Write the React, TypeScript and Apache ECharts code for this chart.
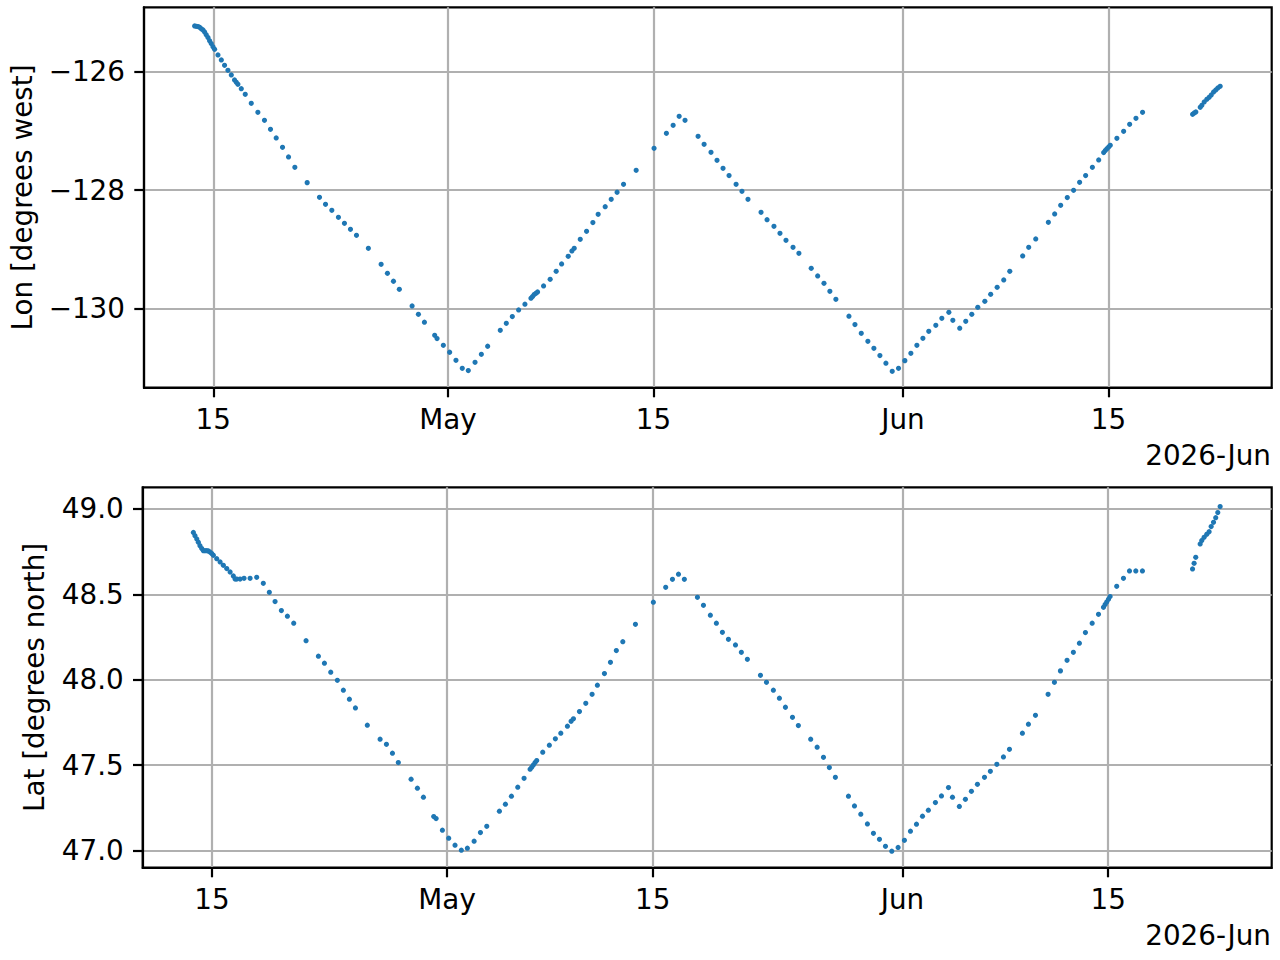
import React, { useEffect, useRef } from 'react';
import * as echarts from 'echarts';

const FONT = 'DejaVu Sans';
const FS = 27.8;

// days since 2026-04-15 00:00
const dayOffsets = [
  -1.27, -1.16, -1.04, -0.93, -0.82, -0.7, -0.59, -0.48, -0.36, -0.25, -0.14, -0.02, 0.09, 0.32, 0.55, 0.77, 1.0, 1.23, 1.45, 1.57, 1.68, 1.91,
  2.18, 2.59, 3.04, 3.49, 3.9, 4.29, 4.72, 5.13, 5.56, 6.4, 7.24, 7.65, 8.08, 8.53, 8.94, 9.35, 9.76, 10.57, 11.44, 11.87, 12.28, 12.68, 13.55, 13.98, 14.39, 15.09, 15.25, 15.68, 16.11, 16.54, 16.97, 17.38, 17.84, 18.27, 18.7, 19.56, 19.97, 20.38, 20.81, 21.24, 21.65, 21.76, 21.87, 21.99, 22.1, 22.51, 22.96, 23.37, 23.74,
  24.19, 24.44, 24.6, 25.01, 25.44, 25.87, 26.23, 26.71, 27.12, 27.52, 27.96, 28.82, 30.04, 30.88, 31.34, 31.75, 32.15, 33.04, 33.45, 33.92, 34.33, 34.74, 35.15, 35.63, 36.03, 36.44, 37.33, 37.74, 38.21, 38.62, 39.03, 39.51, 39.91, 40.75, 41.19, 41.62, 42.02, 42.43, 43.32, 43.73, 44.16, 44.61, 45.02, 45.43, 45.84, 46.27, 46.7, 47.13, 47.54, 47.95, 48.36, 48.76, 49.24, 49.65, 50.13, 50.4, 50.87,
  51.28, 51.69, 52.1, 52.58, 52.98, 53.42, 53.87, 54.28, 55.16, 55.57, 56.05, 56.91, 57.34, 57.75, 58.2, 58.63, 59.04, 59.45, 59.91, 60.34, 60.68, 60.79, 60.9, 61.02, 61.13, 61.58, 62.04, 62.45, 62.88, 63.33,
  66.74, 66.85, 66.96, 67.26, 67.37, 67.53, 67.71, 67.87, 68.01, 68.17, 68.32, 68.46, 68.62,
];

const lonValues = [
  -125.237, -125.243, -125.248, -125.259, -125.282, -125.304, -125.338, -125.383, -125.433, -125.484, -125.534, -125.585, -125.63, -125.725, -125.809, -125.899, -125.983, -126.062, -126.146, -126.185, -126.219, -126.292,
  -126.387, -126.539, -126.69, -126.825, -126.976, -127.122, -127.279, -127.442, -127.616, -127.874, -128.121, -128.238, -128.339, -128.457, -128.558, -128.659, -128.76, -128.979, -129.248, -129.4, -129.534, -129.669, -129.95, -130.09, -130.224, -130.443, -130.499, -130.612, -130.729, -130.864, -130.999, -131.038, -130.898, -130.763, -130.628, -130.359, -130.241, -130.129, -130.017, -129.921, -129.82, -129.792, -129.759, -129.736, -129.714, -129.613, -129.501, -129.366, -129.243,
  -129.114, -129.024, -128.979, -128.828, -128.693, -128.547, -128.407, -128.278, -128.154, -128.036, -127.902, -127.666, -127.296, -127.043, -126.909, -126.757, -126.825, -127.094, -127.229, -127.363, -127.498, -127.633, -127.756, -127.902, -128.02, -128.154, -128.373, -128.497, -128.609, -128.727, -128.844, -128.962, -129.063, -129.316, -129.445, -129.568, -129.703, -129.837, -130.123, -130.264, -130.41, -130.544, -130.662, -130.785, -130.914, -131.049, -130.999, -130.87, -130.746, -130.612, -130.494, -130.376, -130.275, -130.157, -130.056, -130.191, -130.325,
  -130.208, -130.09, -129.972, -129.871, -129.753, -129.635, -129.512, -129.366, -129.108, -128.962, -128.822, -128.541, -128.401, -128.255, -128.126, -128.003, -127.868, -127.756, -127.616, -127.492, -127.369, -127.335, -127.302, -127.274, -127.245, -127.128, -127.01, -126.892, -126.791, -126.69,
  -126.724, -126.701, -126.684, -126.606, -126.572, -126.516, -126.471, -126.438, -126.398, -126.348, -126.314, -126.281, -126.252,
];

const latValues = [
  48.863, 48.844, 48.824, 48.805, 48.785, 48.768, 48.756, 48.756, 48.756, 48.754, 48.748, 48.739, 48.729, 48.709, 48.69, 48.67, 48.651, 48.631, 48.608, 48.59, 48.59, 48.59,
  48.594, 48.594, 48.6, 48.565, 48.512, 48.458, 48.405, 48.372, 48.331, 48.229, 48.138, 48.097, 48.044, 47.997, 47.939, 47.886, 47.835, 47.734, 47.652, 47.622, 47.57, 47.515, 47.418, 47.365, 47.312, 47.199, 47.187, 47.119, 47.072, 47.031, 47.002, 47.014, 47.055, 47.105, 47.142, 47.23, 47.271, 47.318, 47.371, 47.423, 47.476, 47.488, 47.501, 47.515, 47.527, 47.576, 47.617, 47.654, 47.687,
  47.728, 47.757, 47.771, 47.814, 47.862, 47.915, 47.968, 48.036, 48.102, 48.171, 48.223, 48.325, 48.454, 48.541, 48.588, 48.618, 48.588, 48.483, 48.436, 48.378, 48.331, 48.278, 48.237, 48.204, 48.161, 48.12, 48.026, 47.985, 47.939, 47.892, 47.839, 47.78, 47.732, 47.652, 47.605, 47.546, 47.486, 47.429, 47.318, 47.261, 47.213, 47.156, 47.101, 47.066, 47.025, 46.996, 47.018, 47.06, 47.113, 47.154, 47.201, 47.236, 47.281, 47.32, 47.369, 47.312, 47.258,
  47.3, 47.347, 47.388, 47.429, 47.464, 47.505, 47.548, 47.593, 47.687, 47.74, 47.792, 47.915, 47.985, 48.052, 48.114, 48.161, 48.214, 48.276, 48.331, 48.383, 48.424, 48.44, 48.456, 48.471, 48.487, 48.547, 48.594, 48.637, 48.637, 48.637,
  48.649, 48.682, 48.717, 48.795, 48.815, 48.834, 48.852, 48.867, 48.897, 48.922, 48.949, 48.979, 49.014,
];

// x ticks: Apr 15, May 1, May 15, Jun 1, Jun 15 (days since Apr 15)
const xTickDays = [0, 16, 30, 47, 61];
const xTickLabels = ['15', 'May', '15', 'Jun', '15'];
const xRangeDays = [-4.72, 72.13];
const lonTicks = [-130, -128, -126];
const lonRange = [-131.324, -124.923];
const latTicks = [47.0, 47.5, 48.0, 48.5, 49.0];
const latRange = [46.9, 49.127];
const lonName = 'Lon [degrees west]';
const latName = 'Lat [degrees north]';
const offsetLabel = '2026-Jun';

export default function App() {
  const ref = useRef<HTMLDivElement>(null);
  useEffect(() => {
    if (!ref.current) return;
    const chart = echarts.init(ref.current, null, { renderer: 'svg' });
    const lonData = dayOffsets.map((d, i) => [d, lonValues[i]]);
    const latData = dayOffsets.map((d, i) => [d, latValues[i]]);

    const xFormatter = (v: number) => {
      const i = xTickDays.findIndex((t) => Math.abs(t - v) < 0.01);
      return i >= 0 ? xTickLabels[i] : '';
    };
    const labelStyle = { fontSize: FS, fontFamily: FONT, color: '#000' };
    const tickStyle = { lineStyle: { color: '#000', width: 2.2 } };
    const splitStyle = { show: true, lineStyle: { color: '#b0b0b0', width: 2.2 } };

    const makeX = (gi: number) => ({
      type: 'value',
      gridIndex: gi,
      min: xRangeDays[0],
      max: xRangeDays[1],
      axisLine: { show: true, onZero: false, lineStyle: { color: '#000', width: 2.2 } },
      axisTick: { show: true, inside: false, length: 9.7, customValues: xTickDays, ...tickStyle },
      axisLabel: { customValues: xTickDays, formatter: xFormatter, margin: 18, hideOverlap: false, ...labelStyle },
      splitLine: splitStyle,
    });

    const makeY = (gi: number, range: number[], ticks: number[], fmt: (v: number) => string, name: string, gap: number) => ({
      type: 'value',
      gridIndex: gi,
      min: range[0],
      max: range[1],
      name,
      nameLocation: 'middle',
      nameRotate: 90,
      nameGap: gap,
      nameTextStyle: { fontSize: FS, fontFamily: FONT, color: '#000' },
      axisLine: { show: true, onZero: false, lineStyle: { color: '#000', width: 2.2 } },
      axisTick: { show: true, inside: false, length: 9.7, customValues: ticks, ...tickStyle },
      axisLabel: { customValues: ticks, formatter: fmt, margin: 19, hideOverlap: false, ...labelStyle },
      splitLine: splitStyle,
    });

    const series = (gi: number, data: number[][]) => ({
      type: 'scatter',
      xAxisIndex: gi,
      yAxisIndex: gi,
      data,
      symbol: 'circle',
      symbolSize: 5.2,
      itemStyle: { color: '#1f77b4', opacity: 1 },
      silent: true,
    });

    const textStyle = { align: 'right', verticalAlign: 'middle', fontSize: FS, fontFamily: FONT, fill: '#000' };

    chart.setOption({
      animation: false,
      backgroundColor: '#fff',
      grid: [
        { left: 142.7, right: 8.3, top: 7.3, height: 380.3, show: true, borderColor: '#000', borderWidth: 2.2, backgroundColor: 'transparent' },
        { left: 142.7, right: 8.3, top: 487.3, height: 380.3, show: true, borderColor: '#000', borderWidth: 2.2, backgroundColor: 'transparent' },
      ],
      xAxis: [makeX(0), makeX(1)],
      yAxis: [
        makeY(0, lonRange, lonTicks, (v: number) => (v < 0 ? '\u2212' : '') + Math.abs(v).toFixed(0), lonName, 108),
        makeY(1, latRange, latTicks, (v: number) => v.toFixed(1), latName, 94),
      ],
      series: [series(0, lonData), series(1, latData)],
      graphic: [
        { type: 'text', x: 1271, y: 455, style: { text: offsetLabel, ...textStyle } },
        { type: 'text', x: 1271, y: 935, style: { text: offsetLabel, ...textStyle } },
      ],
    });
    return () => chart.dispose();
  }, []);
  return <div ref={ref} style={{ position: 'absolute', left: 0, top: 0, width: 1280, height: 960 }} />;
}
